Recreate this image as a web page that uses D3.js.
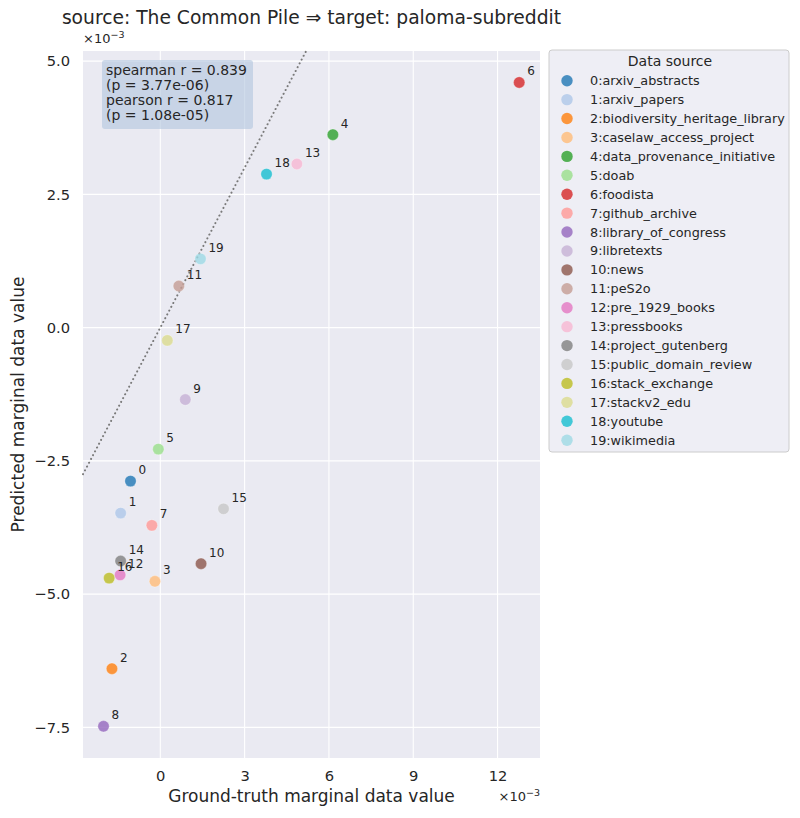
<!DOCTYPE html>
<html>
<head>
<meta charset="utf-8">
<title>source: The Common Pile => target: paloma-subreddit</title>
<script src="https://d3js.org/d3.v7.min.js"></script>
<style>
    body {
        margin: 0;
        background: white;
        font-family: "DejaVu Sans", sans-serif;
    }
    .grid line {
        stroke: white;
        stroke-width: 1.1px;
    }
    .tick text {
        fill: #262626;
        font-size: 14.7px;
    }
    .lbl {
        fill: #262626;
        font-size: 12px;
    }
</style>
</head>
<body>
<div id="chart"></div>
<script>
    // values are in units of 1e-3
    var sources = [
        "arxiv_abstracts", "arxiv_papers", "biodiversity_heritage_library",
        "caselaw_access_project", "data_provenance_initiative", "doab", "foodista",
        "github_archive", "library_of_congress", "libretexts", "news", "peS2o",
        "pre_1929_books", "pressbooks", "project_gutenberg", "public_domain_review",
        "stack_exchange", "stackv2_edu", "youtube", "wikimedia"
    ];
    var groundTruth = [-1.06, -1.41, -1.72, -0.19, 6.14, -0.07, 12.77, -0.30, -2.02, 0.89,
        1.45, 0.66, -1.43, 4.86, -1.41, 2.25, -1.82, 0.25, 3.78, 1.43];
    var predicted = [-2.88, -3.48, -6.40, -4.76, 3.62, -2.28, 4.60, -3.71, -7.48, -1.35,
        -4.43, 0.78, -4.64, 3.07, -4.38, -3.40, -4.70, -0.24, 2.88, 1.29];
    var colors = ["#1f77b4", "#aec7e8", "#ff7f0e", "#ffbb78", "#2ca02c", "#98df8a",
        "#d62728", "#ff9896", "#9467bd", "#c5b0d5", "#8c564b", "#c49c94", "#e377c2",
        "#f7b6d2", "#7f7f7f", "#c7c7c7", "#bcbd22", "#dbdb8d", "#17becf", "#9edae5"];
    var xTicks = [0, 3, 6, 9, 12];
    var yTicks = [-7.5, -5.0, -2.5, 0.0, 2.5, 5.0];
    var statsLines = ["spearman r = 0.839", "(p = 3.77e-06)", "pearson r = 0.817", "(p = 1.08e-05)"];

    var W = 800, H = 818;
    var margin = {top: 51, left: 83, width: 457, height: 707};

    var svg = d3.select("#chart").append("svg")
        .attr("width", W)
        .attr("height", H);

    var x = d3.scaleLinear().domain([-2.75, 13.51]).range([0, margin.width]);
    var y = d3.scaleLinear().domain([-8.075, 5.19]).range([margin.height, 0]);

    var g = svg.append("g")
        .attr("transform", "translate(" + margin.left + "," + margin.top + ")");

    g.append("rect")
        .attr("width", margin.width)
        .attr("height", margin.height)
        .attr("fill", "#eaeaf2");

    // grid
    g.append("g").attr("class", "grid")
        .selectAll("line").data(xTicks).join("line")
        .attr("x1", function (d) { return x(d); })
        .attr("x2", function (d) { return x(d); })
        .attr("y1", 0).attr("y2", margin.height);
    g.append("g").attr("class", "grid")
        .selectAll("line").data(yTicks).join("line")
        .attr("y1", function (d) { return y(d); })
        .attr("y2", function (d) { return y(d); })
        .attr("x1", 0).attr("x2", margin.width);

    // axes (no lines, labels only)
    var xAxis = g.append("g")
        .attr("transform", "translate(0," + margin.height + ")")
        .call(d3.axisBottom(x).tickValues(xTicks).tickSize(0).tickPadding(13)
            .tickFormat(d3.format("d")));
    xAxis.select(".domain").remove();
    xAxis.selectAll("text").attr("font-family", "DejaVu Sans");

    var yAxis = g.append("g")
        .call(d3.axisLeft(y).tickValues(yTicks).tickSize(0).tickPadding(13)
            .tickFormat(function (d) { return d3.format(".1f")(d).replace("-", "\u2212"); }));
    yAxis.select(".domain").remove();
    yAxis.selectAll("text").attr("font-family", "DejaVu Sans");

    // identity line
    var lo = Math.max(x.domain()[0], y.domain()[0]);
    var hi = Math.min(x.domain()[1], y.domain()[1]);
    g.append("line")
        .attr("x1", x(lo)).attr("y1", y(lo))
        .attr("x2", x(hi)).attr("y2", y(hi))
        .attr("stroke", "#7a7a7a")
        .attr("stroke-width", 2)
        .attr("stroke-dasharray", "0.1,4.2")
        .attr("stroke-linecap", "round");

    var idx = d3.range(sources.length);

    // points
    g.append("g").selectAll("circle").data(idx).join("circle")
        .attr("cx", function (i) { return x(groundTruth[i]); })
        .attr("cy", function (i) { return y(predicted[i]); })
        .attr("r", 5.7)
        .attr("fill", function (i) { return colors[i]; })
        .attr("fill-opacity", 0.8)
        .attr("stroke", "white")
        .attr("stroke-opacity", 0.5)
        .attr("stroke-width", 0.6);

    g.append("g").selectAll("text").data(idx).join("text")
        .attr("class", "lbl")
        .attr("x", function (i) { return x(groundTruth[i]) + 8; })
        .attr("y", function (i) { return y(predicted[i]) - 7; })
        .text(function (i) { return i; });

    // stats box
    var box = g.append("g").attr("transform", "translate(19,9)");
    box.append("rect")
        .attr("width", 151).attr("height", 69)
        .attr("rx", 3)
        .attr("fill", "#b0c4de").attr("fill-opacity", 0.6);
    box.selectAll("text").data(statsLines).join("text")
        .attr("x", 4)
        .attr("y", function (d, i) { return 15 + i * 15; })
        .attr("fill", "#262626")
        .attr("font-size", "14px")
        .text(function (d) { return d; });

    // offset labels
    var sup = function (sel, xx, yy, anchor) {
        var t = sel.append("text")
            .attr("x", xx).attr("y", yy)
            .attr("text-anchor", anchor)
            .attr("fill", "#262626")
            .attr("font-size", "13px");
        t.append("tspan").text("\u00d710");
        t.append("tspan").attr("dy", -5.5).attr("font-size", "9.5px").text("\u22123");
    };
    sup(svg, margin.left, 43, "start");
    sup(svg, margin.left + margin.width, 801, "end");

    // titles
    svg.append("text")
        .attr("x", margin.left + margin.width / 2).attr("y", 24)
        .attr("text-anchor", "middle")
        .attr("fill", "#262626")
        .attr("font-size", "18.7px")
        .text("source: The Common Pile \u21d2 target: paloma-subreddit");

    svg.append("text")
        .attr("x", margin.left + margin.width / 2).attr("y", 802)
        .attr("text-anchor", "middle")
        .attr("fill", "#262626")
        .attr("font-size", "17px")
        .text("Ground-truth marginal data value");

    svg.append("text")
        .attr("transform", "translate(24," + (margin.top + margin.height / 2) + ") rotate(-90)")
        .attr("text-anchor", "middle")
        .attr("fill", "#262626")
        .attr("font-size", "17px")
        .text("Predicted marginal data value");

    // legend
    var leg = svg.append("g").attr("transform", "translate(549,50)");
    leg.append("rect")
        .attr("width", 240).attr("height", 402)
        .attr("rx", 3)
        .attr("fill", "#eaeaf2").attr("fill-opacity", 0.8)
        .attr("stroke", "#cccccc").attr("stroke-width", 1);
    leg.append("text")
        .attr("x", 121).attr("y", 16)
        .attr("text-anchor", "middle")
        .attr("fill", "#262626")
        .attr("font-size", "14px")
        .text("Data source");
    var items = leg.selectAll("g.item").data(idx).join("g")
        .attr("class", "item")
        .attr("transform", function (i) { return "translate(0," + (30.7 + i * 18.92) + ")"; });
    items.append("circle")
        .attr("cx", 18).attr("r", 5.7)
        .attr("fill", function (i) { return colors[i]; })
        .attr("fill-opacity", 0.8);
    items.append("text")
        .attr("x", 41).attr("y", 4.5)
        .attr("fill", "#262626")
        .attr("font-size", "12.8px")
        .text(function (i) { return i + ":" + sources[i]; });
</script>
</body>
</html>
